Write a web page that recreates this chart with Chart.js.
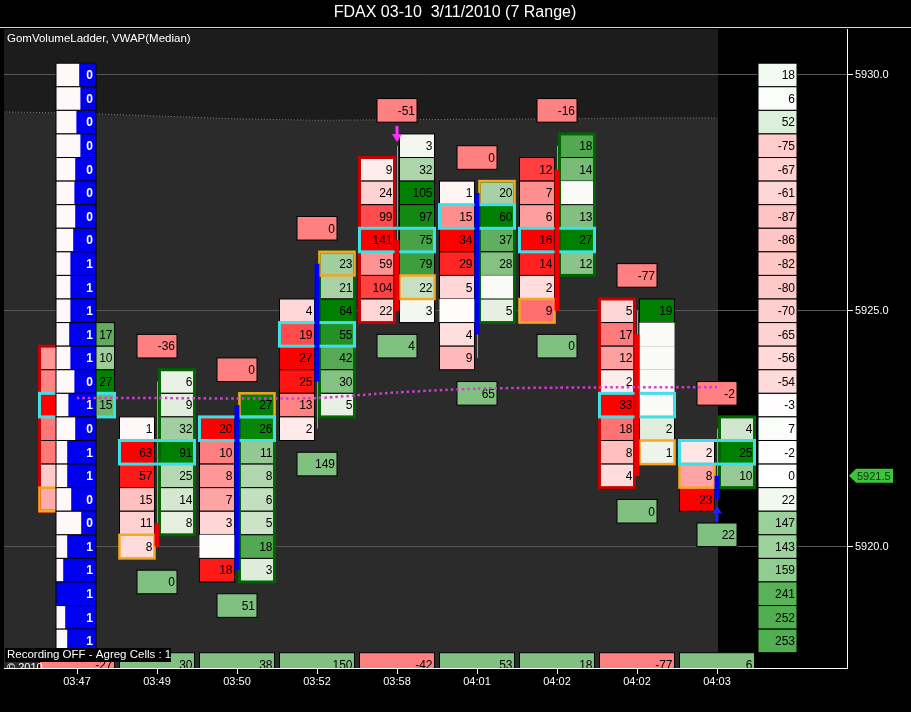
<!DOCTYPE html>
<html>
<head>
<meta charset="utf-8">
<script src="https://cdn.jsdelivr.net/npm/chart.js@4.4.1/dist/chart.umd.min.js"></script>
<style>
html, body { margin: 0; padding: 0; background: #000; overflow: hidden; }
#wrap { width: 911px; height: 712px; }
</style>
</head>
<body>
<div id="wrap"><canvas id="ladder" width="911" height="712"></canvas></div>
<script>
// one bar per index, prices in index points, one ladder row = 0.5
const times = ['03:47', '03:49', '03:50', '03:52', '03:58', '04:01', '04:02', '04:02', '04:03'];

// bid / ask volume per row, listed from the top row down
const bidTop = [5924.0, 5922.5, 5922.5, 5925.0, 5928.0, 5927.5, 5928.0, 5925.0, 5922.0];
const bidVals = [
    [10, 12, 25, 13, 13, 5, 8],
    [1, 63, 57, 15, 11, 8],
    [20, 10, 8, 7, 3, 0, 18],
    [4, 19, 27, 25, 13, 2],
    [9, 24, 99, 141, 59, 104, 22],
    [1, 15, 34, 29, 5, 0, 4, 9],
    [12, 7, 6, 16, 14, 2, 9],
    [5, 17, 12, 2, 33, 18, 8, 4],
    [2, 8, 23]
];
const askTop = [5924.5, 5923.5, 5923.0, 5926.0, 5928.5, 5927.5, 5928.5, 5925.0, 5922.5];
const askVals = [
    [17, 10, 27, 15],
    [6, 9, 32, 91, 25, 14, 8],
    [27, 26, 11, 8, 6, 5, 18, 3],
    [23, 21, 64, 55, 42, 30, 5],
    [3, 32, 105, 97, 75, 79, 22, 3],
    [20, 60, 37, 28, 0, 5],
    [18, 14, 0, 13, 27, 12],
    [19, 0, 0, 0, 0, 2, 1],
    [4, 25, 10]
];

// candles (bar 0 sits under the ladder)
const candleOpen = [null, 5920.5, 5919.5, 5923.5, 5926.5, 5924.5, 5928.0, 5924.5, 5921.0];
const candleHigh = [null, 5923.5, 5923.0, 5926.0, 5928.5, 5927.5, 5928.5, 5925.0, 5922.5];
const candleLow = [null, 5920.0, 5919.5, 5922.5, 5925.0, 5924.0, 5925.0, 5921.5, 5921.0];
const candleClose = [null, 5920.0, 5923.0, 5926.0, 5925.0, 5927.5, 5925.0, 5921.5, 5921.5];

// delta boxes above / below each bar and the bottom strip
const aboveDelta = [null, -36, 0, 0, -51, 0, -16, -77, -2];
const belowDelta = [null, 0, 51, 149, 4, 65, 0, 0, 22];
const bottomDelta = [-27, 30, 38, 150, -42, 53, 18, -77, 6];
const bottomRowPrice = 5917.5;

// highlighted cells and framed column per bar
const imbSide = ['bid', 'bid', 'ask', 'ask', 'ask', 'ask', 'bid', 'ask', 'bid'];
const imbPrice = [5921.0, 5920.0, 5923.0, 5926.0, 5925.5, 5927.5, 5925.0, 5922.0, 5921.5];
const framedSide = ['bid', 'ask', 'ask', 'ask', 'bid', 'ask', 'ask', 'bid', 'ask'];

// VWAP and the upper band line
const vwap = [5923.15, 5923.15, 5923.14, 5923.15, 5923.27, 5923.35, 5923.37, 5923.38, 5923.38];
const bandX = [-1, 0, 1, 2, 3, 4, 5, 6, 7, 8];
const bandY = [5929.22, 5929.19, 5929.13, 5929.07, 5929.04, 5929.05, 5929.06, 5929.07, 5929.09, 5929.09];

// left volume ladder (top row 5930.0)
const ladderTop = 5930.0;
const ladderVals = [0, 0, 0, 0, 0, 0, 0, 0, 1, 1, 1, 1, 1, 0, 1, 0, 1, 1, 0, 0, 1, 1, 1, 1, 1];
const ladderBlue = [.42, .39, .49, .39, .52, .54, .52, .57, .64, .64, .64, .67, .64, .54, .69, .52, .72, .72, .62, .37, .72, .82, 1, .77, .72];

// right session profile (top row 5930.0)
const profileTop = 5930.0;
const profileVals = [18, 6, 52, -75, -67, -61, -87, -86, -82, -80, -70, -65, -56, -54, -3, 7, -2, 0, 22, 147, 143, 159, 241, 252, 253];

const priceTicks = [5920.0, 5925.0, 5930.0];
const arrowBar = [4, 8];
const arrowPrice = [5928.75, 5920.7];
const arrowDown = [true, false];

// layout constants (x in bar units)
const tick = 0.5;
const cellOuter = 0.469, cellInner = 0.031, boxHalf = 0.25;
const ladderFrom = -0.2625, ladderTo = 0.2375;
const profileFrom = 8.5125, profileTo = 9.0;
const shadeEnd = 8.0125;
const FONT = '"Liberation Sans", Arial, sans-serif';

function shadeRed(v, max) {
    const r = max ? v / max : 0;
    const c = Math.round(252 * (1 - r));
    return `rgb(255,${c},${c})`;
}
function shadeGreen(v, max) {
    const r = max ? v / max : 0;
    return `rgb(${Math.round(250 * (1 - r))},${Math.round(250 - 122 * r)},${Math.round(246 * (1 - r))})`;
}
function shadeProfile(v) {
    const r = Math.min(1, Math.abs(v) / 253);
    if (v >= 0) return `rgb(${Math.round(255 - 175 * r)},${Math.round(255 - 80 * r)},${Math.round(255 - 175 * r)})`;
    return `rgb(255,${Math.round(255 - 175 * r)},${Math.round(255 - 175 * r)})`;
}

function drawCells(chart) {
    const { ctx, chartArea: a, scales: { x, y } } = chart;
    const px = v => x.getPixelForValue(v), py = v => y.getPixelForValue(v);
    ctx.save();
    ctx.beginPath();
    ctx.rect(a.left, a.top, a.right - a.left, a.bottom - a.top);
    ctx.clip();
    ctx.font = '12px ' + FONT;
    ctx.textAlign = 'right';
    ctx.textBaseline = 'middle';

    function box(x0, x1, p, fill, label, edge = true) {
        const l = px(x0), r = px(x1), t = py(p + tick / 2), b = py(p - tick / 2);
        ctx.fillStyle = fill;
        ctx.fillRect(l, t, r - l, b - t);
        if (edge) {
            ctx.strokeStyle = '#000';
            ctx.lineWidth = 1;
            ctx.strokeRect(l, t, r - l, b - t);
        }
        if (label) {
            ctx.fillStyle = '#000';
            ctx.fillText(label, r - 2, (t + b) / 2 + 1);
        }
    }
    function frame(x0, x1, pTop, pBot, color, w) {
        const l = px(x0), r = px(x1), t = py(pTop + tick / 2), b = py(pBot - tick / 2);
        ctx.strokeStyle = color;
        ctx.lineWidth = w;
        ctx.strokeRect(l, t, r - l, b - t);
    }

    // bottom strip
    bottomDelta.forEach((v, i) => box(i - cellOuter, i + cellOuter, bottomRowPrice, v < 0 ? '#ff8080' : '#80c080', String(v)));

    times.forEach((t, i) => {
        const bMax = Math.max(...bidVals[i]), aMax = Math.max(...askVals[i]);
        const bidBot = bidTop[i] - (bidVals[i].length - 1) * tick;
        const askBot = askTop[i] - (askVals[i].length - 1) * tick;
        bidVals[i].forEach((v, k) => box(i - cellOuter, i - cellInner, bidTop[i] - k * tick, shadeRed(v, bMax), v ? String(v) : '', v > 0));
        askVals[i].forEach((v, k) => box(i + cellInner, i + cellOuter, askTop[i] - k * tick, shadeGreen(v, aMax), v ? String(v) : '', v > 0));

        if (framedSide[i] === 'bid') frame(i - cellOuter, i - cellInner, bidTop[i], bidBot, '#c80000', 3);
        else frame(i + cellInner, i + cellOuter, askTop[i], askBot, '#006400', 3);

        // imbalance cell
        const oi = imbSide[i] === 'bid';
        frame(oi ? i - cellOuter : i + cellInner, oi ? i - cellInner : i + cellOuter, imbPrice[i], imbPrice[i], '#f5a623', 2.5);

        // point of control: row with most bid+ask volume
        const tot = {};
        bidVals[i].forEach((v, k) => { const p = bidTop[i] - k * tick; tot[p] = (tot[p] || 0) + v; });
        askVals[i].forEach((v, k) => { const p = askTop[i] - k * tick; tot[p] = (tot[p] || 0) + v; });
        let poc = null;
        Object.keys(tot).forEach(p => { if (poc === null || tot[p] > tot[poc]) poc = p; });
        frame(i - cellOuter, i + cellOuter, +poc, +poc, '#3ee0e6', 3);

        // candle
        if (candleOpen[i] !== null) {
            ctx.strokeStyle = '#9a9a9a';
            ctx.lineWidth = 1;
            ctx.beginPath();
            ctx.moveTo(px(i) + 0.5, py(candleHigh[i]));
            ctx.lineTo(px(i) + 0.5, py(candleLow[i]));
            ctx.stroke();
            const up = candleClose[i] >= candleOpen[i];
            const tp = py(Math.max(candleOpen[i], candleClose[i])), bt = py(Math.min(candleOpen[i], candleClose[i]));
            ctx.fillStyle = up ? '#0000ee' : '#ee0000';
            ctx.fillRect(px(i - cellInner), tp, px(i + cellInner) - px(i - cellInner), Math.max(2, bt - tp));
        }

        // delta boxes
        const hi = Math.max(bidTop[i], askTop[i]);
        const lo = Math.min(bidBot, askBot);
        if (aboveDelta[i] !== null) box(i - boxHalf, i + boxHalf, hi + 1.5 * tick, '#ff8080', String(aboveDelta[i]));
        if (belowDelta[i] !== null) box(i - boxHalf, i + boxHalf, lo - 1.5 * tick, '#80c080', String(belowDelta[i]));
    });

    // arrows
    arrowBar.forEach((b, n) => {
        const cx = px(b), cy = py(arrowPrice[n]);
        const d = arrowDown[n] ? 1 : -1;
        ctx.fillStyle = arrowDown[n] ? '#ff30ff' : '#2020ff';
        ctx.beginPath();
        ctx.rect(cx - 1.5, Math.min(cy - 8 * d, cy), 3, 8);
        ctx.fill();
        ctx.beginPath();
        ctx.moveTo(cx - 5, cy);
        ctx.lineTo(cx + 5, cy);
        ctx.lineTo(cx, cy + 8 * d);
        ctx.closePath();
        ctx.fill();
    });

    // right profile
    profileVals.forEach((v, k) => box(profileFrom, profileTo, profileTop - k * tick, shadeProfile(v), String(v)));

    // left ladder
    ctx.font = 'bold 12px ' + FONT;
    ladderVals.forEach((v, k) => {
        const p = ladderTop - k * tick;
        const l = px(ladderFrom), r = px(ladderTo), t = py(p + tick / 2), b = py(p - tick / 2);
        ctx.fillStyle = '#fff8f8';
        ctx.fillRect(l, t, r - l, b - t);
        ctx.fillStyle = '#0000f0';
        const bw = (r - l) * ladderBlue[k];
        ctx.fillRect(r - bw, t, bw, b - t);
        ctx.strokeStyle = '#000';
        ctx.lineWidth = 1;
        ctx.strokeRect(l, t, r - l, b - t);
        ctx.fillStyle = '#fff';
        ctx.fillText(String(v), r - 3, (t + b) / 2 + 1);
    });
    ctx.restore();
}

const ladderPlugin = {
    id: 'volumeLadder',
    beforeDraw(chart) {
        const { ctx, chartArea: a, scales: { x, y } } = chart;
        ctx.save();
        ctx.fillStyle = '#000';
        ctx.fillRect(0, 0, chart.width, chart.height);
        const xe = x.getPixelForValue(shadeEnd);
        ctx.beginPath();
        ctx.rect(a.left, a.top, xe - a.left, a.bottom - a.top);
        ctx.clip();
        ctx.fillStyle = '#2b2b2b';
        ctx.fillRect(a.left, a.top, xe - a.left, a.bottom - a.top);
        // darker band above the upper line
        ctx.fillStyle = '#1c1c1c';
        ctx.beginPath();
        ctx.moveTo(x.getPixelForValue(bandX[0]), a.top);
        bandX.forEach((v, i) => ctx.lineTo(x.getPixelForValue(v), y.getPixelForValue(bandY[i])));
        ctx.lineTo(xe + 1, y.getPixelForValue(bandY[bandY.length - 1]));
        ctx.lineTo(xe + 1, a.top);
        ctx.closePath();
        ctx.fill();
        ctx.restore();
    },
    beforeDatasetDraw(chart, args) {
        if (args.index === 0) drawCells(chart);
    },
    afterDraw(chart) {
        const { ctx, chartArea: a, scales: { y } } = chart;
        ctx.save();
        // title and separator
        ctx.fillStyle = '#fff';
        ctx.font = '16px ' + FONT;
        ctx.textAlign = 'center';
        ctx.textBaseline = 'middle';
        ctx.fillText('FDAX 03-10  3/11/2010 (7 Range)', 455, 13);
        ctx.fillStyle = '#d8d8d8';
        ctx.fillRect(0, 27, chart.width, 1);

        ctx.textAlign = 'left';
        ctx.font = '11.5px ' + FONT;
        ctx.fillStyle = '#fff';
        ctx.fillText('GomVolumeLadder, VWAP(Median)', 7, 39);

        // status label bottom-left
        ctx.save();
        ctx.beginPath();
        ctx.rect(a.left, a.top, a.right - a.left, a.bottom - a.top);
        ctx.clip();
        ctx.fillStyle = '#fff';
        ctx.font = '11px ' + FONT;
        ctx.textBaseline = 'top';
        ctx.fillText('\u00a9 2010', 7, 662);
        ctx.restore();
        ctx.fillStyle = '#000';
        ctx.fillRect(5, 648, 166, 14);
        ctx.fillStyle = '#fff';
        ctx.font = '11.5px ' + FONT;
        ctx.textBaseline = 'middle';
        ctx.fillText('Recording OFF - Agreg Cells : 1', 7, 655);

        // last price tag
        const last = candleClose[candleClose.length - 1];
        const ty = y.getPixelForValue(last);
        ctx.fillStyle = '#3cc43c';
        ctx.beginPath();
        ctx.moveTo(a.right + 2, ty);
        ctx.lineTo(a.right + 9, ty - 7);
        ctx.lineTo(a.right + 46, ty - 7);
        ctx.lineTo(a.right + 46, ty + 7);
        ctx.lineTo(a.right + 9, ty + 7);
        ctx.closePath();
        ctx.fill();
        ctx.fillStyle = '#0a300a';
        ctx.font = '11px ' + FONT;
        ctx.fillText(last.toFixed(1), a.right + 10, ty + 1);
        ctx.restore();
    }
};

const ctx = document.getElementById('ladder').getContext('2d');
new Chart(ctx, {
    type: 'scatter',
    data: {
        datasets: [
            {
                label: 'VWAP',
                data: vwap.map((v, i) => ({ x: i, y: v })),
                showLine: true,
                borderColor: '#d23cd2',
                borderWidth: 2.5,
                borderDash: [2.5, 3],
                pointRadius: 0,
                tension: 0.2
            },
            {
                label: 'band',
                data: bandX.map((v, i) => ({ x: v, y: bandY[i] })),
                showLine: true,
                borderColor: '#7a7a7a',
                borderWidth: 1,
                borderDash: [1, 2],
                pointRadius: 0
            }
        ]
    },
    options: {
        responsive: false,
        animation: false,
        layout: { padding: { top: 29, left: 4, right: 0, bottom: 0 } },
        plugins: { legend: { display: false }, tooltip: { enabled: false } },
        scales: {
            x: {
                type: 'linear',
                min: -0.9125,
                max: 9.625,
                afterBuildTicks: s => { s.ticks = times.map((t, i) => ({ value: i })); },
                afterFit: s => { s.height = 44; },
                grid: { drawOnChartArea: false, drawTicks: true, tickLength: 6, tickColor: '#fff', color: '#fff' },
                border: { display: true, color: '#fff', width: 1 },
                ticks: {
                    color: '#fff',
                    padding: 1,
                    autoSkip: false,
                    maxRotation: 0,
                    font: { family: 'Liberation Sans', size: 11 },
                    callback: (v, idx) => times[idx]
                }
            },
            y: {
                type: 'linear',
                position: 'right',
                min: 5917.426,
                max: 5930.975,
                afterBuildTicks: s => { s.ticks = priceTicks.map(v => ({ value: v })); },
                afterFit: s => { s.width = 64; },
                grid: { color: '#585858', lineWidth: 1, drawTicks: true, tickLength: 6, tickColor: '#fff' },
                border: { display: true, color: '#fff', width: 1 },
                ticks: {
                    color: '#fff',
                    padding: 2,
                    font: { family: 'Liberation Sans', size: 11 },
                    callback: v => v.toFixed(1)
                }
            }
        }
    },
    plugins: [ladderPlugin]
});
</script>
</body>
</html>
